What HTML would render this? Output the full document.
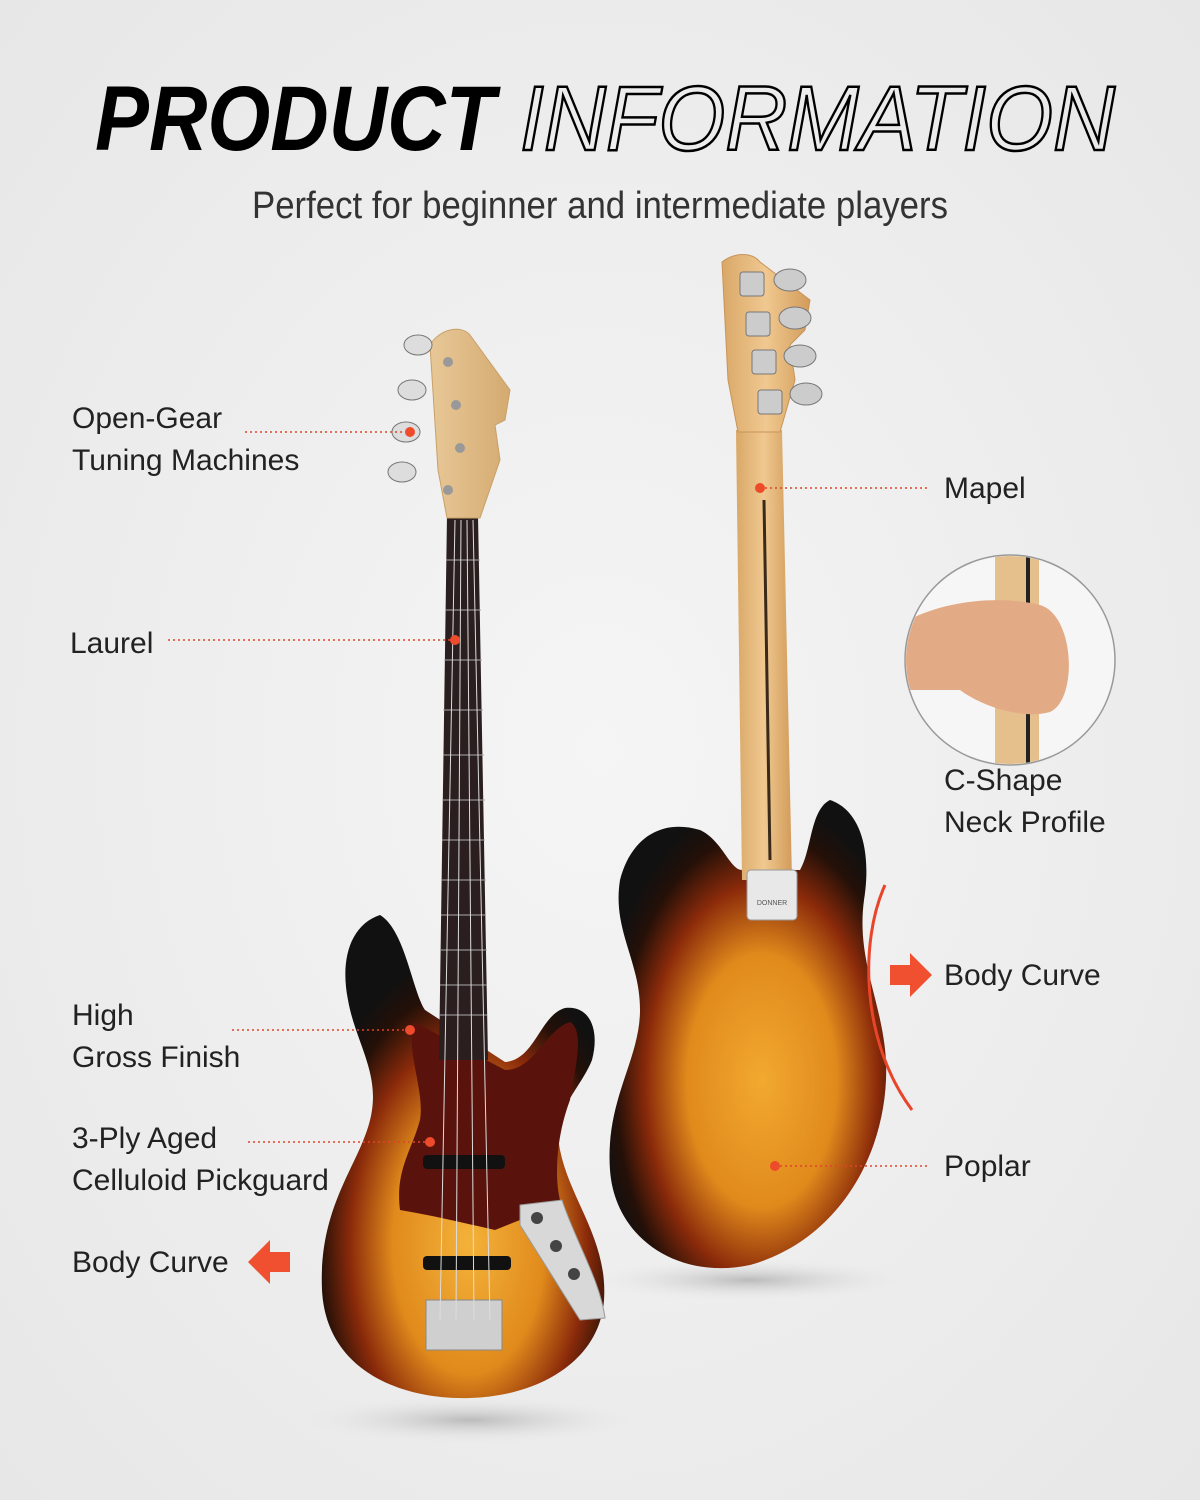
<!DOCTYPE html>
<html><head><meta charset="utf-8"><style>
html,body{margin:0;padding:0;background:#eeeeee}
svg{display:block}
</style></head><body>
<svg width="1200" height="1500" viewBox="0 0 1200 1500" xmlns="http://www.w3.org/2000/svg" font-family="Liberation Sans, sans-serif">
<defs>
<radialGradient id="bg" cx="50%" cy="50%" r="75%"><stop offset="0" stop-color="#f5f5f5"/><stop offset="1" stop-color="#e6e6e6"/></radialGradient>
<radialGradient id="sb1" cx="52%" cy="68%" r="60%"><stop offset="0" stop-color="#f4b23a"/><stop offset="0.45" stop-color="#e08a1c"/><stop offset="0.7" stop-color="#8a2a0a"/><stop offset="0.88" stop-color="#241008"/><stop offset="1" stop-color="#111"/></radialGradient>
<radialGradient id="sb2" cx="55%" cy="60%" r="60%"><stop offset="0" stop-color="#f2a930"/><stop offset="0.45" stop-color="#e08a1c"/><stop offset="0.7" stop-color="#8a2a0a"/><stop offset="0.88" stop-color="#241008"/><stop offset="1" stop-color="#111"/></radialGradient>
<linearGradient id="maple" x1="0" x2="1"><stop offset="0" stop-color="#d9a868"/><stop offset="0.5" stop-color="#f0c890"/><stop offset="1" stop-color="#d29c5a"/></linearGradient>
<linearGradient id="wood" x1="0" x2="1"><stop offset="0" stop-color="#e8c898"/><stop offset="1" stop-color="#d4aa70"/></linearGradient>
<radialGradient id="shadow" cx="50%" cy="50%" r="50%"><stop offset="0" stop-color="#bbb"/><stop offset="1" stop-color="#eee" stop-opacity="0"/></radialGradient>
<clipPath id="circ"><circle cx="1010" cy="660" r="104"/></clipPath>
</defs>
<rect width="1200" height="1500" fill="url(#bg)"/>

<!-- Title -->
<text x="95" y="150" font-size="92" font-weight="bold" font-style="italic" fill="#000" textLength="400" lengthAdjust="spacingAndGlyphs">PRODUCT</text>
<text x="520" y="150" font-size="92" font-style="italic" fill="none" stroke="#000" stroke-width="2.5" textLength="595" lengthAdjust="spacingAndGlyphs">INFORMATION</text>
<text x="600" y="218" font-size="38" fill="#333" text-anchor="middle" textLength="696" lengthAdjust="spacingAndGlyphs">Perfect for beginner and intermediate players</text>

<!-- shadows -->
<ellipse cx="470" cy="1420" rx="180" ry="25" fill="url(#shadow)"/>
<ellipse cx="750" cy="1280" rx="170" ry="22" fill="url(#shadow)"/>

<!-- Back guitar -->
<path d="M830 800 C860 810 872 850 864 900 C856 960 882 1000 886 1060 C890 1150 840 1240 750 1265 C680 1280 615 1240 610 1170 C605 1100 640 1060 640 1010 C640 960 612 930 620 880 C630 840 660 818 700 830 C722 840 730 870 742 870 L800 870 C812 850 810 810 830 800 Z" fill="url(#sb2)"/>
<path d="M736 430 L782 430 L792 880 L742 880 Z" fill="url(#maple)"/>
<line x1="764" y1="500" x2="770" y2="860" stroke="#3a2a1a" stroke-width="3"/>
<path d="M722 262 C735 252 752 252 760 262 L810 300 L805 330 L790 345 L795 380 L780 432 L738 432 L728 380 Z" fill="url(#maple)" stroke="#c89458" stroke-width="1"/>
<g fill="#ccc" stroke="#777" stroke-width="1">
<rect x="740" y="272" width="24" height="24" rx="3"/><rect x="746" y="312" width="24" height="24" rx="3"/><rect x="752" y="350" width="24" height="24" rx="3"/><rect x="758" y="390" width="24" height="24" rx="3"/>
<ellipse cx="790" cy="280" rx="16" ry="11"/><ellipse cx="795" cy="318" rx="16" ry="11"/><ellipse cx="800" cy="356" rx="16" ry="11"/><ellipse cx="806" cy="394" rx="16" ry="11"/>
</g>
<rect x="747" y="870" width="50" height="50" rx="4" fill="#e8e8e8" stroke="#999"/>
<text x="772" y="905" font-size="7" text-anchor="middle" fill="#555">DONNER</text>

<!-- Front guitar -->
<path d="M380 915 C350 925 340 960 348 1000 C355 1040 378 1070 372 1110 C365 1160 318 1200 322 1290 C326 1370 400 1400 470 1398 C540 1396 600 1360 604 1300 C608 1240 570 1200 560 1150 C552 1110 580 1090 592 1060 C600 1030 590 1005 565 1008 C540 1015 535 1060 505 1062 L425 1010 C412 990 405 930 380 915 Z" fill="url(#sb1)"/>
<path d="M414 1022 L505 1070 C535 1070 545 1030 570 1022 C585 1030 575 1070 570 1100 C555 1140 555 1180 560 1200 L520 1220 L495 1230 C460 1222 430 1215 400 1210 C395 1170 412 1150 420 1120 C425 1090 405 1050 414 1022 Z" fill="#5a120c"/>
<path d="M520 1205 L562 1200 C575 1240 600 1280 605 1318 L580 1320 L520 1225 Z" fill="#d8d8d8" stroke="#999"/>
<g fill="#444"><circle cx="537" cy="1218" r="6"/><circle cx="556" cy="1246" r="6"/><circle cx="574" cy="1274" r="6"/></g>
<rect x="423" y="1155" width="82" height="14" rx="4" fill="#111"/>
<rect x="423" y="1256" width="88" height="14" rx="4" fill="#111"/>
<rect x="426" y="1300" width="76" height="50" fill="#cfcfcf" stroke="#888"/>
<path d="M447 515 L478 515 L488 1060 L439 1060 Z" fill="#2a1e1e"/>
<g stroke="#aaa" stroke-width="1">
<line x1="446" y1="560" x2="480" y2="560"/><line x1="445" y1="610" x2="481" y2="610"/><line x1="444" y1="660" x2="482" y2="660"/><line x1="443" y1="710" x2="483" y2="710"/><line x1="443" y1="755" x2="484" y2="755"/><line x1="442" y1="800" x2="485" y2="800"/><line x1="442" y1="840" x2="485" y2="840"/><line x1="441" y1="880" x2="486" y2="880"/><line x1="441" y1="915" x2="486" y2="915"/><line x1="440" y1="950" x2="487" y2="950"/><line x1="440" y1="985" x2="487" y2="985"/><line x1="440" y1="1015" x2="487" y2="1015"/>
</g>
<g stroke="#ddd" stroke-width="1"><line x1="455" y1="520" x2="440" y2="1320"/><line x1="461" y1="520" x2="456" y2="1320"/><line x1="467" y1="520" x2="474" y2="1320"/><line x1="473" y1="520" x2="490" y2="1320"/></g>
<path d="M430 345 C440 328 462 325 470 335 L510 390 L505 420 L495 425 L500 460 L480 518 L447 518 L438 470 Z" fill="url(#wood)" stroke="#c8a068"/>
<g fill="#ddd" stroke="#777"><ellipse cx="418" cy="345" rx="14" ry="10"/><ellipse cx="412" cy="390" rx="14" ry="10"/><ellipse cx="406" cy="432" rx="14" ry="10"/><ellipse cx="402" cy="472" rx="14" ry="10"/></g>
<g fill="#999"><circle cx="448" cy="362" r="5"/><circle cx="456" cy="405" r="5"/><circle cx="460" cy="448" r="5"/><circle cx="448" cy="490" r="5"/></g>

<!-- Circle detail -->
<circle cx="1010" cy="660" r="105" fill="#f6f6f6" stroke="#999" stroke-width="1.5"/>
<g clip-path="url(#circ)">
<rect x="995" y="540" width="44" height="240" fill="#e6c08c"/>
<line x1="1028" y1="540" x2="1028" y2="780" stroke="#222" stroke-width="4"/>
<path d="M900 625 C940 600 1000 595 1040 605 C1075 615 1078 700 1050 712 C1020 720 980 705 960 690 L900 690 Z" fill="#e3ab85"/>
</g>

<!-- Labels -->
<g font-size="30" fill="#222">
<text x="72" y="428">Open-Gear</text><text x="72" y="470">Tuning Machines</text>
<text x="70" y="653">Laurel</text>
<text x="72" y="1025">High</text><text x="72" y="1067">Gross Finish</text>
<text x="72" y="1148">3-Ply Aged</text><text x="72" y="1190">Celluloid Pickguard</text>
<text x="72" y="1272">Body Curve</text>
<text x="944" y="498">Mapel</text>
<text x="944" y="790">C-Shape</text><text x="944" y="832">Neck Profile</text>
<text x="944" y="985">Body Curve</text>
<text x="944" y="1176">Poplar</text>
</g>
<g stroke="#e0442a" stroke-width="1.5" stroke-dasharray="2 3">
<line x1="245" y1="432" x2="405" y2="432"/>
<line x1="168" y1="640" x2="450" y2="640"/>
<line x1="232" y1="1030" x2="405" y2="1030"/>
<line x1="248" y1="1142" x2="425" y2="1142"/>
<line x1="765" y1="488" x2="930" y2="488"/>
<line x1="780" y1="1166" x2="930" y2="1166"/>
</g>
<g fill="#ee4a2c"><circle cx="410" cy="432" r="5"/><circle cx="455" cy="640" r="5"/><circle cx="410" cy="1030" r="5"/><circle cx="430" cy="1142" r="5"/><circle cx="760" cy="488" r="5"/><circle cx="775" cy="1166" r="5"/></g>
<!-- arrows -->
<path d="M248 1262 L270 1240 L270 1252 L290 1252 L290 1272 L270 1272 L270 1284 Z" fill="#f05030"/>
<path d="M932 975 L910 953 L910 965 L890 965 L890 985 L910 985 L910 997 Z" fill="#f05030"/>
<path d="M885 885 C860 940 860 1040 912 1110" fill="none" stroke="#e8452a" stroke-width="3"/>
</svg>
</body></html>
